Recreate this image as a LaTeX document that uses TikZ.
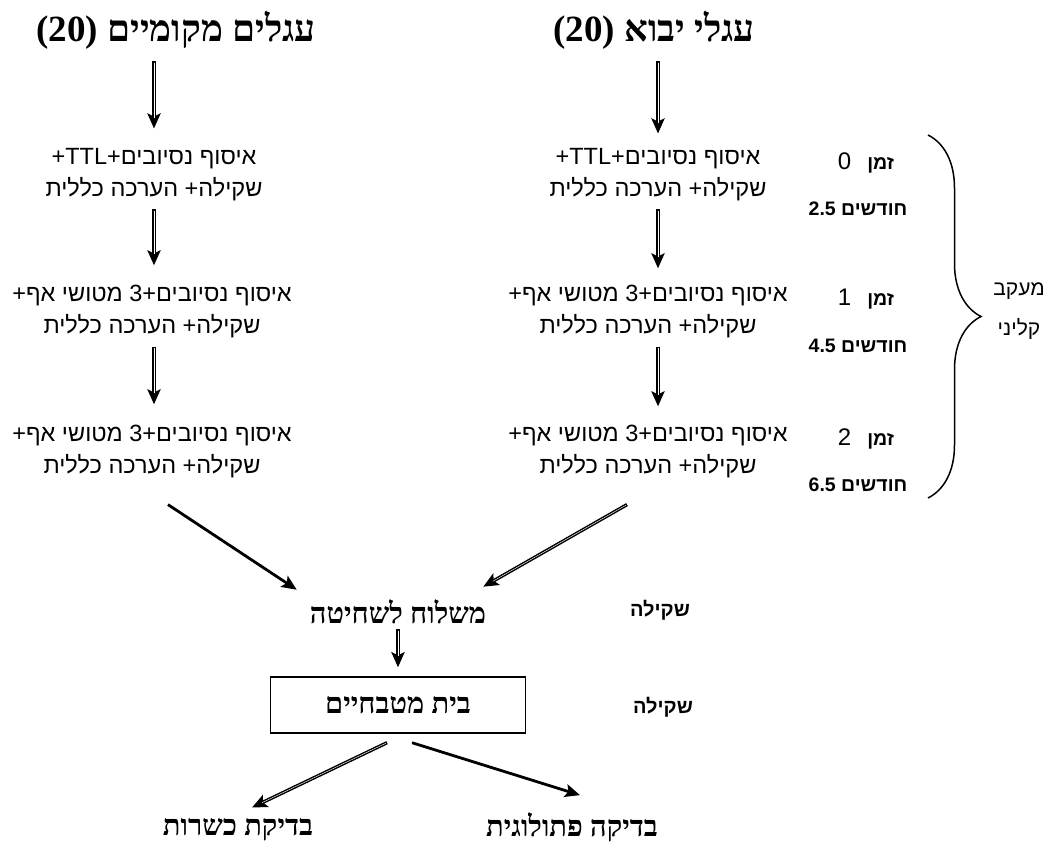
\documentclass[tikz,border=0pt]{standalone}
\usepackage{fontspec}
\usetikzlibrary{calc,arrows.meta,decorations.pathreplacing}
\TeXXeTstate=1
\newfontfamily\hebsans[Script=Hebrew]{Liberation Sans}
\newfontfamily\hebserif[Script=Hebrew]{Liberation Serif}
\newcommand{\rl}[1]{\beginR#1\endR}
\newcommand{\lr}[1]{\beginL#1\endL}
\tikzset{
	hdr/.style={font=\hebserif\bfseries\fontsize{37}{44}\selectfont, inner sep=0pt},
	stage/.style={font=\hebsans\fontsize{23.5}{32}\selectfont, align=center, inner sep=0pt},
	timelbl/.style={font=\hebsans\bfseries\fontsize{19.5}{22}\selectfont, inner sep=0pt},
	weigh/.style={font=\hebsans\bfseries\fontsize{20}{22}\selectfont, inner sep=0pt},
	place/.style={font=\hebserif\bfseries\fontsize{29}{34}\selectfont, inner sep=0pt},
	dblarrow/.style={line width=3.4pt, -{Stealth[length=15pt,width=13pt,inset=3pt]},
		postaction={draw=white, line width=0.45pt, -, shorten <=1.2pt, shorten >=11pt}},
	thkarrow/.style={line width=2.8pt, -{Stealth[length=15pt,width=13pt,inset=3pt]}}
}

\begin{document}
\begin{tikzpicture}[x=1pt,y=-1pt]
	\useasboundingbox (0,0) rectangle (1052,842);

	\node[hdr] (hdrL) at (176,30) {\rl{עגלים מקומיים \lr{(20)}}};
	\node[hdr] (hdrR) at (654,30) {\rl{עגלי יבוא \lr{(20)}}};

	\node[stage] (l1) at (154,175) {\rl{איסוף נסיובים+\lr{TTL}+}\\\rl{שקילה+ הערכה כללית}};
	\node[stage] (l2) at (152,312) {\rl{איסוף נסיובים+3 מטושי אף+}\\\rl{שקילה+ הערכה כללית}};
	\node[stage] (l3) at (152,452) {\rl{איסוף נסיובים+3 מטושי אף+}\\\rl{שקילה+ הערכה כללית}};
	\node[stage] (r1) at (658,175) {\rl{איסוף נסיובים+\lr{TTL}+}\\\rl{שקילה+ הערכה כללית}};
	\node[stage] (r2) at (648,312) {\rl{איסוף נסיובים+3 מטושי אף+}\\\rl{שקילה+ הערכה כללית}};
	\node[stage] (r3) at (648,452) {\rl{איסוף נסיובים+3 מטושי אף+}\\\rl{שקילה+ הערכה כללית}};

	\node[timelbl] (t0) at (866,163) {\rl{זמן\hspace{16pt}{\mdseries\fontsize{24}{24}\selectfont 0}}};
	\node[timelbl] (m0) at (858,209) {\rl{חודשים \lr{2.5}}};
	\node[timelbl] (t1) at (866,299) {\rl{זמן\hspace{16pt}{\mdseries\fontsize{24}{24}\selectfont 1}}};
	\node[timelbl] (m1) at (858,346) {\rl{חודשים \lr{4.5}}};
	\node[timelbl] (t2) at (866,439) {\rl{זמן\hspace{16pt}{\mdseries\fontsize{24}{24}\selectfont 2}}};
	\node[timelbl] (m2) at (858,485) {\rl{חודשים \lr{6.5}}};

	\coordinate (braceTop) at (928,135);
	\coordinate (braceBot) at (928,498);
	\draw[line width=1.5pt, decorate, decoration={brace, amplitude=53pt}] (braceTop) -- (braceBot);
	\node[font=\hebsans\fontsize{21}{40}\selectfont, align=center, inner sep=0pt] (follow) at (1019,311) {\rl{מעקב}\\\rl{קליני}};

	\node[place] (ship) at (398,612) {\rl{משלוח לשחיטה}};
	\node[weigh] (wShip) at (660,610) {\rl{שקילה}};
	\node[place, draw, line width=1.4pt, minimum width=255pt, minimum height=56pt] (abattoir) at (398,705) {\rl{בית מטבחיים}};
	\node[weigh] (wAbattoir) at (663,707) {\rl{שקילה}};
	\node[place] (kosher) at (238,830) {\rl{בדיקת כשרות}};
	\node[place] (patho) at (572,827) {\rl{בדיקה פתולוגית}};

	\draw[dblarrow] ($(hdrL.south -| l1.north)+(0,12)$) -- ($(l1.north)+(0,-20)$);
	\draw[dblarrow] ($(hdrR.south -| r1.north)+(0,12)$) -- ($(r1.north)+(0,-15)$);
	\draw[dblarrow] ($(l1.south)+(0,8)$) -- ($(l2.north -| l1.south)+(0,-20)$);
	\draw[dblarrow] ($(r1.south)+(0,8)$) -- ($(r2.north -| r1.south)+(0,-17)$);
	\draw[dblarrow] ($(l2.south -| l1.south)+(0,8)$) -- ($(l3.north -| l1.south)+(0,-21)$);
	\draw[dblarrow] ($(r2.south -| r1.south)+(0,8)$) -- ($(r3.north -| r1.south)+(0,-19)$);

	\draw[thkarrow] ($(l3.south)+(16,26)$) -- ($(ship.north west)+(-13,-10)$);
	\draw[dblarrow] ($(r3.south)+(-21,26)$) -- ($(ship.north east)+(-3,-13)$);
	\draw[dblarrow] ($(ship.south)+(0,5)$) -- ($(abattoir.north)+(0,-9)$);
	\draw[dblarrow] ($(abattoir.south)+(-11,9)$) -- ($(kosher.north)+(14,-11)$);
	\draw[thkarrow] ($(abattoir.south)+(14,9)$) -- ($(patho.north)+(8,-17)$);
\end{tikzpicture}
\end{document}
